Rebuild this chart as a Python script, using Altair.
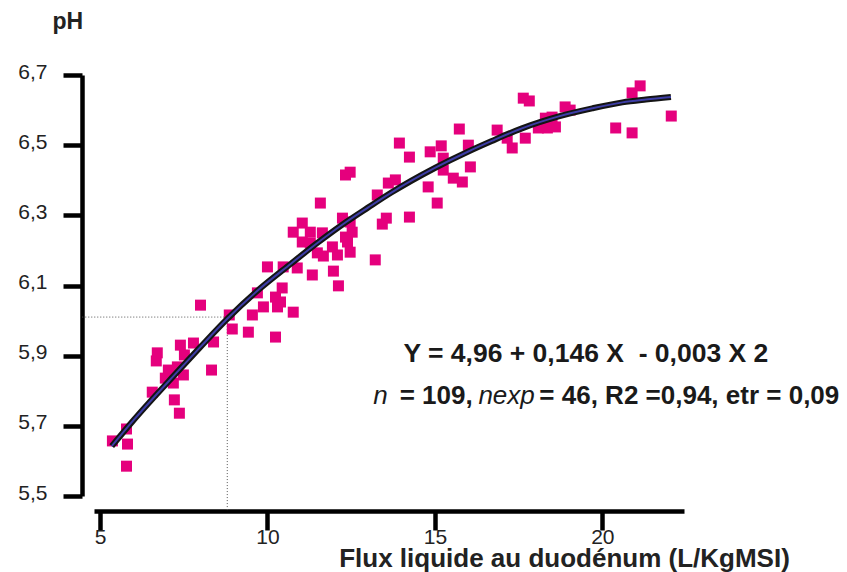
import altair as alt
import pandas as pd

FONT = "Liberation Sans, Arial, Helvetica, sans-serif"

flux = [5.79, 5.37, 5.82, 5.79, 7.37, 7.22, 6.56, 7.19, 6.95, 7.49,
        7.04, 7.31, 8.33, 6.68, 6.71, 7.52, 7.40, 7.79, 8.39, 8.95,
        9.43, 8.86, 8.00, 9.55, 10.24, 9.88, 10.30, 10.77, 9.70, 10.24,
        10.39, 10.44, 10.00, 10.47, 10.89, 11.34, 11.97, 12.12, 11.04, 11.28,
        10.77, 11.04, 11.28, 11.64, 11.49, 11.67, 12.09, 11.94, 12.39, 12.47,
        12.24, 12.47, 11.58, 13.22, 13.55, 13.28, 13.61, 17.64, 17.82, 15.73,
        16.86, 13.94, 15.19, 16.00, 17.31, 14.24, 14.86, 15.25, 16.06, 12.47,
        12.33, 15.25, 15.55, 15.82, 13.82, 14.80, 15.07, 13.43, 14.24, 12.53,
        12.33, 21.13, 20.89, 18.89, 19.04, 22.06, 18.30, 18.50, 20.40, 20.89,
        18.60, 18.09, 17.70, 17.16, 18.36]
ph = [5.585, 5.657, 5.648, 5.691, 5.736, 5.774, 5.796, 5.822, 5.836, 5.845,
      5.859, 5.868, 5.859, 5.885, 5.908, 5.902, 5.930, 5.936, 5.939, 5.976,
      5.967, 6.016, 6.044, 6.016, 5.953, 6.039, 6.039, 6.024, 6.079, 6.067,
      6.053, 6.093, 6.153, 6.153, 6.150, 6.130, 6.141, 6.099, 6.224, 6.221,
      6.252, 6.278, 6.252, 6.250, 6.193, 6.184, 6.187, 6.210, 6.224, 6.195,
      6.292, 6.281, 6.335, 6.173, 6.292, 6.358, 6.392, 6.634, 6.626, 6.546,
      6.543, 6.506, 6.498, 6.500, 6.492, 6.466, 6.481, 6.463, 6.438, 6.423,
      6.415, 6.429, 6.406, 6.395, 6.401, 6.381, 6.335, 6.275, 6.295, 6.252,
      6.238, 6.669, 6.649, 6.609, 6.600, 6.583, 6.577, 6.580, 6.549, 6.535,
      6.552, 6.549, 6.520, 6.520, 6.549]

# Fitted curve
curve_x = [5.35, 6.0, 7.35, 8.0, 8.8, 9.7, 10.7, 11.5, 12.35, 13.0,
           13.7, 15.0, 16.0, 16.7, 17.6, 18.7, 19.7, 20.6, 21.3, 22.05]
curve_y = [5.642, 5.716, 5.858, 5.925, 6.005, 6.085, 6.162, 6.222, 6.281, 6.322,
           6.365, 6.435, 6.482, 6.512, 6.548, 6.582, 6.605, 6.622, 6.630, 6.637]

# Reading guide (dotted)
guide_x = 8.8
guide_y = 6.01
guide_x_start = 4.47
guide_y_end = 5.457

y_ticks = [5.5, 5.7, 5.9, 6.1, 6.3, 6.5, 6.7]
x_ticks = [5, 10, 15, 20]
x_domain = [4.82, 22.44]
y_domain = [5.5, 6.7]

# Annotation text
eq_text = ["Y = 4,96 + 0,146 X\u00a0 - 0,003 X 2"]
eq_x = [14.06]
eq_y = [5.882]
stat_text = ["n", "= 109,", "nexp", "= 46, R2 =0,94, etr = 0,09"]
stat_italic = [True, False, True, False]
stat_x = [13.16, 13.95, 16.30, 18.12]
stat_y = [5.762, 5.762, 5.762, 5.762]

INK = "#000000"
PINK = "#e5007d"
AXW = 4.5

xscale = alt.Scale(domain=x_domain, nice=False, zero=False)
yscale = alt.Scale(domain=y_domain, nice=False, zero=False)

xaxis = alt.Axis(values=x_ticks, format="d", grid=False, offset=15,
                 domainColor=INK, domainWidth=AXW, tickColor=INK, tickWidth=AXW, tickSize=19,
                 domainOpacity=1, tickOpacity=1,
                 labelFont=FONT, labelFontSize=21, labelColor="#222", labelPadding=-4,
                 labelFlush=False,
                 title="Flux liquide au duodénum (L/KgMSI)", titleFont=FONT,
                 titleFontSize=26, titleFontWeight="bold", titleColor="#222",
                 titleAlign="center", titleBaseline="alphabetic", titleX=470, titleY=55)
yaxis = alt.Axis(values=y_ticks, labelExpr="replace(format(datum.value, '.1f'), '.', ',')",
                 grid=False, offset=12,
                 domainColor=INK, domainWidth=AXW, tickColor=INK, tickWidth=AXW, tickSize=19,
                 domainOpacity=1, tickOpacity=1,
                 labelFont=FONT, labelFontSize=21, labelColor="#222", labelPadding=16,
                 labelOffset=-3, labelFlush=False,
                 title="pH", titleFont=FONT, titleFontSize=23, titleFontWeight="bold",
                 titleColor="#222", titleAngle=0, titleAlign="left",
                 titleBaseline="alphabetic", titleX=-30, titleY=-47)


def X(field):
    return alt.X(field, type="quantitative", scale=xscale, axis=xaxis)


def Y(field):
    return alt.Y(field, type="quantitative", scale=yscale, axis=yaxis)


pts_df = pd.DataFrame({"x": flux, "y": ph})
curve_df = pd.DataFrame({"x": curve_x, "y": curve_y})
hguide_df = pd.DataFrame({"x": [guide_x_start], "x2": [guide_x], "y": [guide_y]})
vguide_df = pd.DataFrame({"x": [guide_x], "y": [guide_y], "y2": [guide_y_end]})
eq_df = pd.DataFrame({"x": eq_x, "y": eq_y, "t": eq_text})
stat_df = pd.DataFrame({"x": stat_x, "y": stat_y, "t": stat_text, "it": stat_italic})

hguide = alt.Chart(hguide_df).mark_rule(color="#555", strokeWidth=1, strokeDash=[1, 2]).encode(
    x=X("x"), x2="x2:Q", y=Y("y"))
vguide = alt.Chart(vguide_df).mark_rule(color="#555", strokeWidth=1, strokeDash=[1, 2]).encode(
    x=X("x"), y=Y("y"), y2="y2:Q")

points = alt.Chart(pts_df).mark_square(size=121, color=PINK, filled=True, opacity=1,
                                        strokeWidth=0).encode(x=X("x"), y=Y("y"))

curve_outer = alt.Chart(curve_df).mark_line(color="#141414", strokeWidth=6,
                                            interpolate="monotone").encode(x=X("x"), y=Y("y"))
curve_inner = alt.Chart(curve_df).mark_line(color="#3d3da6", strokeWidth=2,
                                            interpolate="monotone").encode(x=X("x"), y=Y("y"))

eq = alt.Chart(eq_df).mark_text(font=FONT, fontSize=26.5, fontWeight="bold", color="#1a1a1a",
                                align="left", baseline="alphabetic").encode(
    x=X("x"), y=Y("y"), text="t:N")

stat_bold = alt.Chart(stat_df).transform_filter("!datum.it").mark_text(
    font=FONT, fontSize=26, fontWeight="bold", color="#1a1a1a",
    align="left", baseline="alphabetic").encode(x=X("x"), y=Y("y"), text="t:N")
stat_ital = alt.Chart(stat_df).transform_filter("datum.it").mark_text(
    font=FONT, fontSize=26, fontStyle="italic", fontWeight="normal", color="#1a1a1a",
    align="left", baseline="alphabetic").encode(x=X("x"), y=Y("y"), text="t:N")

chart = alt.layer(hguide, vguide, points, curve_outer, curve_inner, eq, stat_bold, stat_ital).properties(
    width=590, height=421,
    autosize=alt.AutoSizeParams(type="none"),
    padding={"left": 86, "top": 67, "right": 155, "bottom": 76},
    background="white",
).configure_view(stroke=None).configure_axis(
    domainWidth=AXW, tickWidth=AXW, domainColor=INK, tickColor=INK, domainCap="butt"
)

chart.save("out.html", embed_options={"renderer": "svg", "actions": False})
